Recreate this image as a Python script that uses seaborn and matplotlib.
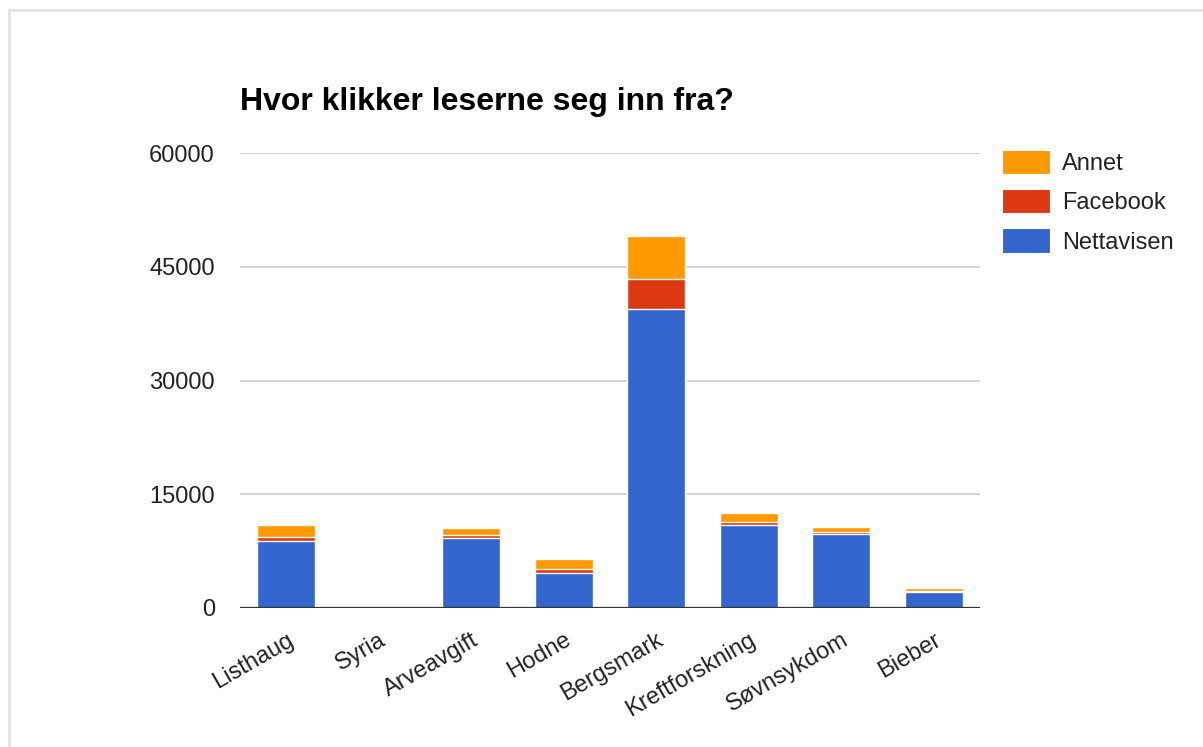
import matplotlib
matplotlib.use("Agg")
import matplotlib.pyplot as plt
from matplotlib.lines import Line2D
from matplotlib.patches import Patch
import numpy as np
import pandas as pd
import seaborn as sns

# Click sources per article
articles = ["Listhaug", "Syria", "Arveavgift", "Hodne", "Bergsmark",
            "Kreftforskning", "Søvnsykdom", "Bieber"]
nettavisen = [8900, 0, 9200, 4600, 39400, 11000, 9800, 2100]
facebook = [400, 0, 400, 600, 4000, 400, 250, 100]
annet = [1600, 0, 900, 1200, 5700, 1100, 600, 500]

series_names = ["Annet", "Facebook", "Nettavisen"]
series_colors = {"Annet": "#ff9900", "Facebook": "#dc3912", "Nettavisen": "#3366cc"}

df = pd.DataFrame({
    "artikkel": articles,
    "Nettavisen": nettavisen,
    "Facebook": facebook,
    "Annet": annet,
})
# cumulative heights for stacking (drawn from the tallest layer down)
df["top_facebook"] = df["Nettavisen"] + df["Facebook"]
df["top_annet"] = df["top_facebook"] + df["Annet"]

sns.set_theme(style="white")
plt.rcParams["font.family"] = ["Liberation Sans", "DejaVu Sans"]

fig = plt.figure(figsize=(12.03, 7.47), dpi=100)
ax = fig.add_axes([240 / 1203, 1 - 608 / 747, 740 / 1203, 455 / 747])

bar_kw = dict(order=articles, width=0.63, edgecolor="white", linewidth=1.0, ax=ax)
sns.barplot(data=df, x="artikkel", y="top_annet", color=series_colors["Annet"],
            saturation=1, **bar_kw)
sns.barplot(data=df, x="artikkel", y="top_facebook", color=series_colors["Facebook"],
            saturation=1, **bar_kw)
sns.barplot(data=df, x="artikkel", y="Nettavisen", color=series_colors["Nettavisen"],
            saturation=1, **bar_kw)

ax.set_xlim(-0.5, len(articles) - 0.5)
ax.set_ylim(0, 60000)
ax.set_yticks([0, 15000, 30000, 45000, 60000])
ax.set_yticklabels(["0", "15000", "30000", "45000", "60000"])
ax.yaxis.grid(True, color="#cccccc", linewidth=1.2)
ax.set_axisbelow(True)
ax.axhline(0, color="#333333", linewidth=1.6, zorder=5)
for s in ax.spines.values():
    s.set_visible(False)
ax.set_xlabel("")
ax.set_ylabel("")
ax.tick_params(axis="y", length=0, pad=18, labelsize=17, labelcolor="#222222")
ax.tick_params(axis="x", length=0, pad=15, labelsize=17, labelcolor="#222222")
for lbl in ax.get_xticklabels():
    lbl.set_rotation(30)
    lbl.set_ha("right")
    lbl.set_va("top")
    lbl.set_rotation_mode("anchor")

fig.text(240 / 1203, 1 - 110 / 747, "Hvor klikker leserne seg inn fra?",
         fontsize=23, fontweight="bold", color="#000000", ha="left", va="baseline")

handles = [Patch(facecolor=series_colors[n], edgecolor="white", linewidth=0.8)
           for n in series_names]
fig.legend(handles, series_names, loc="upper left",
           bbox_to_anchor=(1002 / 1203, 1 - 150 / 747), frameon=False,
           fontsize=17, handlelength=2.05, handleheight=1.2,
           handletextpad=0.5, labelspacing=0.6, borderpad=0, borderaxespad=0,
           labelcolor="#222222")

# page frame around the chart
fig.add_artist(Line2D([9 / 1203, 1], [1 - 10 / 747, 1 - 10 / 747],
                      transform=fig.transFigure, color="#e2e2e2", linewidth=2))
fig.add_artist(Line2D([9 / 1203, 9 / 1203], [0, 1 - 10 / 747],
                      transform=fig.transFigure, color="#e2e2e2", linewidth=2))

fig.savefig("out.png", dpi=100, facecolor="white")
